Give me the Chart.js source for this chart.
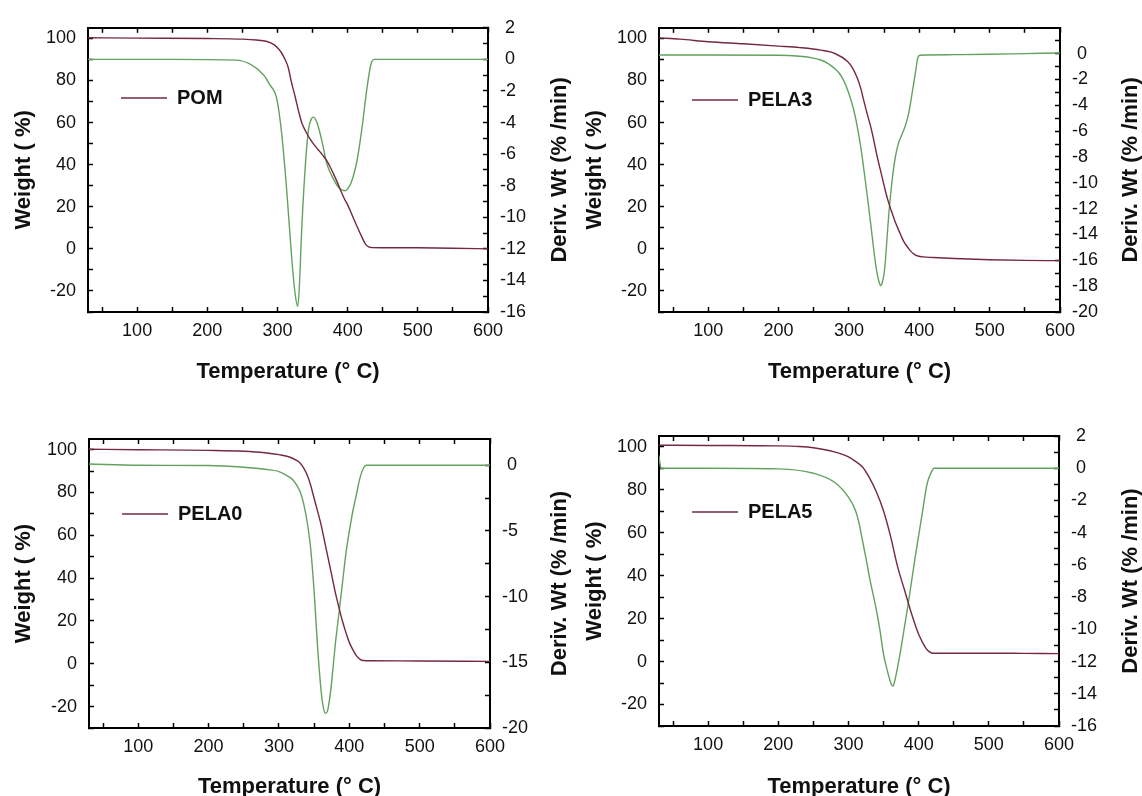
<!DOCTYPE html>
<html>
<head>
<meta charset="utf-8">
<script src="https://cdn.jsdelivr.net/npm/chart.js@4.4.1/dist/chart.umd.min.js"></script>
<style>
  html, body { margin: 0; padding: 0; background: #fff; }
  #wrap { position: relative; width: 1142px; height: 796px; overflow: hidden; }
  canvas { position: absolute; }
</style>
</head>
<body>
<div id="wrap">
  <canvas id="pom" width="571" height="398" style="left:0;top:0"></canvas>
  <canvas id="pela3" width="571" height="398" style="left:571px;top:0"></canvas>
  <canvas id="pela0" width="571" height="398" style="left:0;top:398px"></canvas>
  <canvas id="pela5" width="571" height="398" style="left:571px;top:398px"></canvas>
</div>
<script>
// tick values + which ones get a label
var tempTicks = [50, 100, 150, 200, 250, 300, 350, 400, 450, 500, 550, 600];
var tempLabels = [100, 200, 300, 400, 500, 600];
var weightTicks = [-30, -20, -10, 0, 10, 20, 30, 40, 50, 60, 70, 80, 90, 100];
var weightLabels = [-20, 0, 20, 40, 60, 80, 100];
var derivTicks16 = [-16, -15, -14, -13, -12, -11, -10, -9, -8, -7, -6, -5, -4, -3, -2, -1, 0, 1, 2];
var derivLabels16 = [-16, -14, -12, -10, -8, -6, -4, -2, 0, 2];
var derivTicks20 = [-20, -19, -18, -17, -16, -15, -14, -13, -12, -11, -10, -9, -8, -7, -6, -5, -4, -3, -2, -1, 0, 1];
var derivLabels20 = [-20, -18, -16, -14, -12, -10, -8, -6, -4, -2, 0];
var derivTicks5 = [-20, -17.5, -15, -12.5, -10, -7.5, -5, -2.5, 0];
var derivLabels5 = [-20, -15, -10, -5, 0];

// POM
var pomWtTemp = [30, 100, 200, 250, 270, 285, 295, 300, 305, 310, 315, 320, 325, 330, 335, 340, 345, 350, 355, 360, 365, 370, 375, 380, 385, 390, 395, 400, 405, 410, 415, 420, 425, 430, 435, 450, 500, 550, 600];
var pomWt = [100.3, 100.1, 99.9, 99.6, 99.2, 98.5, 97, 95.5, 93.5, 90.5, 86.5, 79, 72.5, 65.5, 59.5, 56, 53, 50.5, 48.3, 46.3, 44.3, 42, 39, 35.5, 31.8, 27.8, 24, 20.9, 17.1, 13.2, 9.4, 5.8, 2.5, 0.9, 0.6, 0.55, 0.5, 0.3, 0.0];
var pomDrTemp = [30, 150, 240, 261, 280, 289, 299, 306, 313, 320, 325, 329, 332, 334, 339, 344, 348, 351, 356, 363, 370, 380, 389, 396, 403, 408, 413, 420, 427, 433, 438, 500, 600];
var pomDr = [0, 0, -0.05, -0.3, -0.97, -1.6, -2.5, -4.7, -8.2, -12.4, -14.8, -15.65, -13.6, -11.3, -7.2, -4.5, -3.8, -3.66, -3.97, -5.1, -6.56, -7.6, -8.2, -8.32, -8.0, -7.4, -6.5, -4.5, -2.0, -0.34, 0, 0, 0];

// PELA3
var pela3WtTemp = [30, 60, 100, 150, 200, 230, 260, 280, 298, 305, 312, 317, 321, 326, 331, 336, 340, 345, 350, 355, 360, 365, 369, 374, 378, 383, 388, 393, 398, 405, 420, 450, 500, 550, 600];
var pela3Wt = [100.2, 99.6, 98.4, 97.4, 96.3, 95.6, 94.4, 92.8, 89, 86, 81, 76, 70.5, 64, 57.9, 50.5, 44, 37, 30, 23.5, 18.3, 13.5, 10.2, 6.3, 3.4, 1.0, -1.2, -2.6, -3.4, -3.8, -4.1, -4.6, -5.2, -5.5, -5.6];
var pela3DrTemp = [30, 100, 200, 230, 245, 260, 270, 279, 286, 293, 300, 307, 312, 317, 322, 326, 331, 335, 339, 342.5, 345, 347.5, 350, 352, 354.5, 357, 360, 363, 366, 370, 375, 380, 385, 390, 395, 398, 401, 410, 450, 500, 550, 600];
var pela3Dr = [-0.1, -0.1, -0.12, -0.2, -0.3, -0.49, -0.75, -1.12, -1.5, -2.13, -3.1, -4.4, -5.7, -7.3, -9.3, -11, -13.2, -15.06, -16.7, -17.6, -17.97, -17.7, -17.0, -15.9, -14.0, -12.2, -10.5, -9.1, -8.0, -7.0, -6.3, -5.6, -4.6, -3.0, -1.3, -0.3, -0.12, -0.1, -0.08, -0.05, 0, 0.05];

// PELA0
var pela0WtTemp = [30, 100, 200, 250, 280, 300, 315, 325, 330, 335, 340, 345, 350, 355, 360, 365, 370, 375, 380, 385, 390, 395, 400, 405, 410, 415, 420, 430, 500, 600];
var pela0Wt = [100.2, 100.0, 99.7, 99.3, 98.6, 97.7, 96.6, 95.0, 93.8, 91.5, 88.3, 83.5, 77.3, 71.2, 64.8, 57, 49.2, 41.4, 33.5, 26.7, 20.2, 14.8, 10.0, 6.6, 3.8, 2.2, 1.5, 1.4, 1.3, 1.1];
var pela0DrTemp = [30, 100, 200, 250, 280, 300, 315, 320, 325, 330, 335, 340, 345, 350, 355, 360, 363, 366, 369, 372, 375, 380, 385, 390, 395, 400, 405, 410, 415, 420, 424, 450, 600];
var pela0Dr = [0.1, 0.0, -0.02, -0.15, -0.3, -0.48, -0.9, -1.12, -1.5, -2.0, -2.9, -4.28, -6.3, -9.6, -13.9, -17.2, -18.4, -18.9, -18.7, -17.8, -16.45, -13.67, -11.4, -9.1, -6.8, -5.04, -3.5, -2.26, -1.0, -0.23, 0, 0, 0];

// PELA5
var pela5WtTemp = [30, 100, 200, 230, 250, 280, 300, 310, 320, 330, 340, 350, 360, 370, 380, 390, 400, 410, 415, 420, 450, 500, 550, 600];
var pela5Wt = [100.7, 100.6, 100.4, 100.1, 99.5, 97.6, 95.3, 93.2, 90.6, 85.5, 78.8, 70.1, 58.3, 44.2, 33.2, 22.1, 12.7, 6.4, 4.6, 3.9, 3.9, 3.9, 3.8, 3.7];
var pela5DrTemp = [30, 31, 33, 100, 200, 250, 280, 300, 310, 315, 320, 325, 330, 340, 345, 350, 355, 358, 361, 363.5, 366, 368, 375, 385, 395, 405, 412, 418, 422, 450, 600];
var pela5Dr = [0.8, 0.4, 0.0, 0.0, -0.04, -0.31, -0.87, -1.8, -2.63, -3.4, -4.5, -5.6, -6.78, -8.86, -10.1, -11.56, -12.5, -13.0, -13.4, -13.52, -13.2, -12.8, -11.14, -8.45, -5.54, -2.84, -0.98, -0.25, 0, 0, 0];

var FONT = '"Liberation Sans", Arial, sans-serif';
var MAROON = '#74293d';
var GREEN = '#62a25e';
var INK = '#111';

function pts(xs, ys) {
  return xs.map(function (x, i) { return {x: x, y: ys[i]}; });
}

function useTicks(values) {
  return function (axis) {
    axis.ticks = values.map(function (v) { return {value: v}; });
  };
}

function onlyLabels(labels, signed) {
  return function (v) {
    if (labels.indexOf(v) < 0) return '';
    // origin style: keep room for the minus sign on the right axis
    return (signed && v >= 0 ? ' ' : '') + v;
  };
}

var frameGrid = {drawOnChartArea: false, color: '#000', tickLength: -5, tickWidth: 1.5};
var frameBorder = {color: '#000', width: 2};

// right axis title reads bottom-to-top, chart.js would rotate it the other way
var rightTitle = {
  id: 'rightTitle',
  afterDraw: function (chart, args, opts) {
    var a = chart.chartArea, ctx = chart.ctx;
    ctx.save();
    ctx.translate(opts.x, (a.top + a.bottom) / 2 + (opts.dy || 0));
    ctx.rotate(-Math.PI / 2);
    ctx.font = 'bold 22px ' + FONT;
    ctx.fillStyle = INK;
    ctx.textAlign = 'center';
    ctx.textBaseline = 'middle';
    ctx.fillText(opts.text, 0, 0);
    ctx.restore();
  }
};

function makeChart(p) {
  var g = p.box;
  return new Chart(document.getElementById(p.id), {
    type: 'line',
    data: {
      datasets: [{
        label: p.name,
        data: pts(p.wtTemp, p.wt),
        borderColor: MAROON,
        borderWidth: 1.4,
        pointRadius: 0,
        pointBorderWidth: 1.4,
        cubicInterpolationMode: 'monotone',
        xAxisID: 'x',
        yAxisID: 'y'
      }, {
        label: 'deriv',
        data: pts(p.drTemp, p.dr),
        borderColor: GREEN,
        borderWidth: 1.4,
        pointRadius: 0,
        cubicInterpolationMode: 'monotone',
        xAxisID: 'x',
        yAxisID: 'y2'
      }]
    },
    options: {
      responsive: false,
      animation: false,
      devicePixelRatio: 1,
      layout: {padding: 0},
      plugins: {
        tooltip: {enabled: false},
        legend: {
          // legend box starts at canvas top here, so the offset is from there
          position: 'chartArea',
          align: 'start',
          title: {display: true, text: '', font: {size: 10, lineHeight: 1}, padding: {top: p.legendDy, bottom: 0}},
          labels: {
            usePointStyle: true,
            pointStyle: 'line',
            pointStyleWidth: 46,
            padding: 33,
            color: INK,
            font: {family: FONT, size: 20, weight: 'bold'},
            filter: function (item) { return item.datasetIndex === 0; }
          }
        },
        rightTitle: {text: 'Deriv. Wt (% /min)', x: 560, dy: 0}
      },
      scales: {
        x: {
          type: 'linear', position: 'bottom', min: 30, max: 600, bounds: 'data',
          afterBuildTicks: useTicks(tempTicks),
          afterFit: function (s) { s.height = 398 - g.b; },
          ticks: {autoSkip: false, maxRotation: 0, padding: 13, color: INK, font: {family: FONT, size: 18}, callback: onlyLabels(tempLabels)},
          grid: frameGrid, border: frameBorder,
          title: {display: true, text: 'Temperature (\u00b0 C)', color: INK, font: {family: FONT, size: 22, weight: 'bold', lineHeight: 1}, padding: {top: 0, bottom: p.xTitlePad}}
        },
        x2: {
          type: 'linear', position: 'top', min: 30, max: 600, bounds: 'data',
          afterBuildTicks: useTicks(tempTicks),
          afterFit: function (s) { s.height = g.t; },
          ticks: {display: false, autoSkip: false},
          grid: frameGrid, border: frameBorder
        },
        y: {
          type: 'linear', position: 'left', min: -30, max: 105, bounds: 'data',
          afterBuildTicks: useTicks(weightTicks),
          afterFit: function (s) { s.width = g.l; },
          ticks: {autoSkip: false, padding: 17, color: INK, font: {family: FONT, size: 18}, callback: onlyLabels(weightLabels)},
          grid: frameGrid, border: frameBorder,
          title: {display: true, text: 'Weight ( %)', color: INK, font: {family: FONT, size: 22, weight: 'bold', lineHeight: 1}, padding: {top: 13, bottom: 0}}
        },
        y2: {
          type: 'linear', position: 'right', min: p.drMin, max: p.drMax, bounds: 'data',
          afterBuildTicks: useTicks(p.drTicks),
          afterFit: function (s) { s.width = 571 - g.r; },
          ticks: {autoSkip: false, padding: 17, color: INK, font: {family: FONT, size: 18}, callback: onlyLabels(p.drLabels, true)},
          grid: frameGrid, border: frameBorder
        }
      }
    },
    plugins: [rightTitle]
  });
}

var panels = [
  {id: 'pom', name: 'POM', wtTemp: pomWtTemp, wt: pomWt, drTemp: pomDrTemp, dr: pomDr,
   drMin: -16, drMax: 2, drTicks: derivTicks16, drLabels: derivLabels16,
   box: {l: 88, r: 488, t: 22, b: 312}, xTitlePad: 15, legendDy: 45},
  {id: 'pela3', name: 'PELA3', wtTemp: pela3WtTemp, wt: pela3Wt, drTemp: pela3DrTemp, dr: pela3Dr,
   drMin: -20, drMax: 2, drTicks: derivTicks20, drLabels: derivLabels20,
   box: {l: 88, r: 489, t: 22, b: 312}, xTitlePad: 15, legendDy: 47},
  {id: 'pela0', name: 'PELA0', wtTemp: pela0WtTemp, wt: pela0Wt, drTemp: pela0DrTemp, dr: pela0Dr,
   drMin: -20, drMax: 2, drTicks: derivTicks5, drLabels: derivLabels5,
   box: {l: 89, r: 490, t: 41, b: 330}, xTitlePad: -2, legendDy: 63},
  {id: 'pela5', name: 'PELA5', wtTemp: pela5WtTemp, wt: pela5Wt, drTemp: pela5DrTemp, dr: pela5Dr,
   drMin: -16, drMax: 2, drTicks: derivTicks16, drLabels: derivLabels16,
   box: {l: 88, r: 488, t: 38, b: 328}, xTitlePad: -2, legendDy: 61}
];

panels.forEach(makeChart);
</script>
</body>
</html>
